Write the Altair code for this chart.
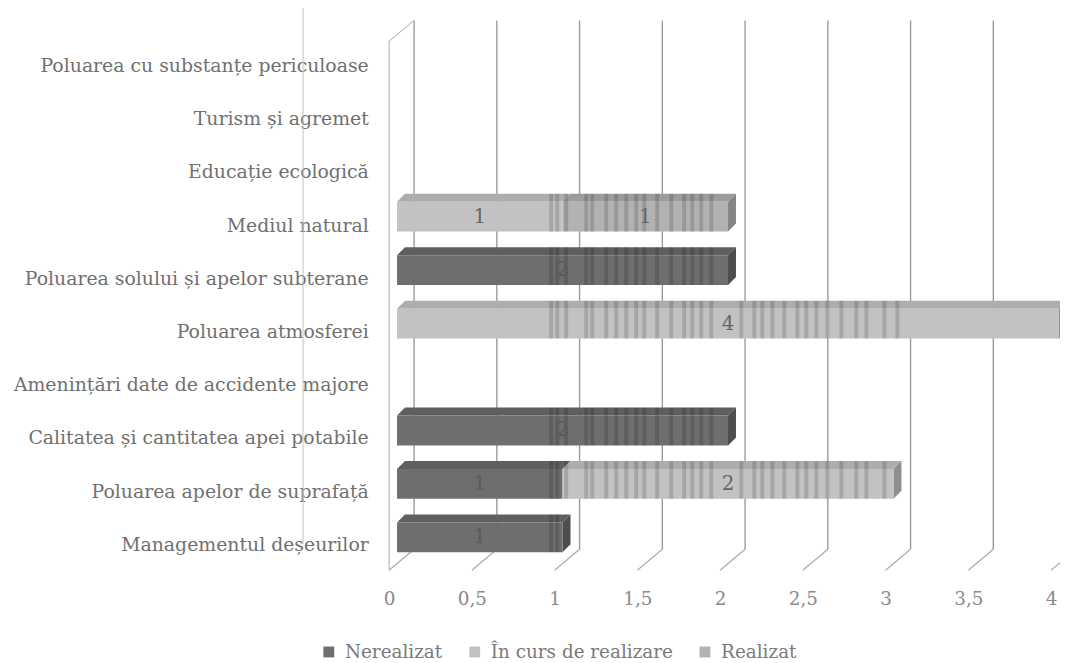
import json
import altair as alt
import pandas as pd

categories = ["Managementul deșeurilor", "Poluarea apelor de suprafață",
              "Calitatea și cantitatea apei potabile", "Amenințări date de accidente majore",
              "Poluarea atmosferei", "Poluarea solului și apelor subterane", "Mediul natural",
              "Educație ecologică", "Turism și agremet", "Poluarea cu substanțe periculoase"]
series_names = ["Nerealizat", "În curs de realizare", "Realizat"]
nerealizat = [1, 1, 2, 0, 0, 2, 0, 0, 0, 0]
in_curs = [0, 2, 0, 0, 4, 0, 1, 0, 0, 0]
realizat = [0, 0, 0, 0, 0, 0, 1, 0, 0, 0]
x_ticks = [0, 0.5, 1, 1.5, 2, 2.5, 3, 3.5, 4]
# dark scan bands across the bars (in value units)
stripes = [0.967, 1.004, 1.058, 1.179, 1.215, 1.300, 1.360, 1.421, 1.481, 1.530, 1.608,
           1.693, 1.771, 1.820, 1.874, 1.935, 2.116, 2.195, 2.243, 2.304, 2.376, 2.455,
           2.509, 2.570, 2.636, 2.721, 2.811, 2.872, 2.981, 3.059]

FRONT = {"Nerealizat": "#6e6e6e", "În curs de realizare": "#c2c2c2", "Realizat": "#b2b2b2"}
TOP = {"Nerealizat": "#5f5f5f", "În curs de realizare": "#adadad", "Realizat": "#9c9c9c"}
SIDE = {"Nerealizat": "#4d4d4d", "În curs de realizare": "#8f8f8f", "Realizat": "#858585"}
LABEL_COLOR = {"Nerealizat": "#5a5a5a", "În curs de realizare": "#666666", "Realizat": "#666666"}

WALL_DX, WALL_DY = 0.151, 0.393      # depth of the chart box, in scale units
BAR_SHIFT = 0.048                    # bars stand a little inside the box
BAR_DX, BAR_DY = 0.048, 0.15         # depth of each bar
BAR_LOW, BAR_HIGH = -0.15, 0.41      # front face around the category position
BAR_STEP = 1.005
Y_MIN, Y_MAX = -0.487, 9.85

FONT = "DejaVu Serif"
x_scale = alt.Scale(domain=[0, 4], nice=False, zero=False)
y_scale = alt.Scale(domain=[Y_MIN, Y_MAX], nice=False, zero=False)

segs = []
for i, c in enumerate(categories):
    start = 0
    for name, vals in zip(series_names, [nerealizat, in_curs, realizat]):
        v = vals[i]
        if v:
            pos = i * BAR_STEP
            segs.append(dict(i=i, series=name, v=v, x0=start + BAR_SHIFT, x1=start + v + BAR_SHIFT,
                             xm=start + v / 2 + BAR_SHIFT, y0=pos + BAR_LOW, y1=pos + BAR_HIGH,
                             ym=pos + (BAR_LOW + BAR_HIGH) / 2))
            start += v

tops, sides, stripe_rows = [], [], []
for n, s in enumerate(segs):
    t = s["y1"]
    for px, low, high in [(s["x0"], t, t), (s["x0"] + BAR_DX, t, t + BAR_DY),
                          (s["x1"], t, t + BAR_DY), (s["x1"] + BAR_DX, t + BAR_DY, t + BAR_DY)]:
        tops.append(dict(id=n, x=px, y=low, y2=high, fill=TOP[s["series"]]))
    last = max(o["x1"] for o in segs if o["i"] == s["i"])
    if s["x1"] == last:
        sides.append(dict(id=n, x=s["x1"], y=s["y0"], y2=s["y1"], fill=SIDE[s["series"]]))
        sides.append(dict(id=n, x=s["x1"] + BAR_DX, y=s["y0"] + BAR_DY, y2=s["y1"] + BAR_DY,
                          fill=SIDE[s["series"]]))
    for st in stripes:
        if st >= s["x0"] and st + 0.024 <= s["x1"]:
            stripe_rows.append(dict(x=st, x2=st + 0.024, y=s["y0"], y2=s["y1"] + BAR_DY))

walls, floors = [], []
for n, t in enumerate(x_ticks):
    walls.append(dict(x=t + WALL_DX, y=Y_MIN + WALL_DY, y2=Y_MAX))
    floors += [dict(id=n, x=t, y=Y_MIN), dict(id=n, x=t + WALL_DX, y=Y_MIN + WALL_DY)]
front_edge = [dict(id=0, x=0, y=Y_MIN), dict(id=0, x=0, y=Y_MAX - WALL_DY),
              dict(id=0, x=WALL_DX, y=Y_MAX)]

X = lambda f="x": alt.X(f"{f}:Q", scale=x_scale, title=None)
Y = lambda f="y": alt.Y(f"{f}:Q", scale=y_scale, title=None)

names_js = json.dumps(categories, ensure_ascii=False)
axes = alt.Chart(pd.DataFrame({"x": [0], "y": [0]})).mark_point(opacity=0).encode(
    x=alt.X("x:Q", scale=x_scale, title=None,
            axis=alt.Axis(values=x_ticks, grid=False, domain=False, ticks=False, labelPadding=20,
                          labelFont=FONT, labelFontSize=18.5, labelColor="#8a8a8a", labelFlush=False,
                          labelExpr="replace(format(datum.value,''),'.',',')")),
    y=alt.Y("y:Q", scale=y_scale, title=None,
            axis=alt.Axis(values=list(range(len(categories))), grid=False, domain=False, ticks=False,
                          labelPadding=21, labelFont=FONT, labelFontSize=19, labelColor="#707070",
                          labelLimit=400, labelExpr=f"{names_js}[datum.value]")),
)

grid = alt.Chart(pd.DataFrame(walls)).mark_rule(color="#9a9a9a", strokeWidth=1.4).encode(
    x=X(), y=Y(), y2="y2:Q")
floor = alt.Chart(pd.DataFrame(floors)).mark_line(color="#aaaaaa", strokeWidth=1.2).encode(
    x=X(), y=Y(), detail="id:N")
edge = alt.Chart(pd.DataFrame(front_edge)).mark_line(color="#a8a8a8", strokeWidth=1, order=False).encode(
    x=X(), y=Y(), detail="id:N")
fold = alt.Chart(pd.DataFrame({"x": [-0.52], "y": [10.2], "y2": [0]})).mark_rule(
    color="#c4c4c4", strokeWidth=1).encode(x=X(), y=Y(), y2="y2:Q")

top_faces = alt.Chart(pd.DataFrame(tops)).mark_area(orient="vertical", opacity=1).encode(
    x=X(), y=Y(), y2="y2:Q", color=alt.Color("fill:N", scale=None), detail="id:N")
side_faces = alt.Chart(pd.DataFrame(sides)).mark_area(orient="vertical", opacity=1).encode(
    x=X(), y=Y(), y2="y2:Q", color=alt.Color("fill:N", scale=None), detail="id:N")

seg_df = pd.DataFrame(segs)
fronts = alt.Chart(seg_df).mark_rect().encode(
    x=X("x0"), x2="x1:Q", y=Y("y0"), y2="y1:Q",
    color=alt.Color("series:N",
                    scale=alt.Scale(domain=series_names, range=[FRONT[s] for s in series_names]),
                    legend=alt.Legend(title=None, orient="none", direction="horizontal",
                                      legendX=-70, legendY=627, symbolType="square", symbolSize=120,
                                      labelFont=FONT, labelFontSize=18.5, labelColor="#7a7a7a",
                                      labelOffset=7, columnPadding=23, symbolStrokeWidth=0,
                                      labelLimit=300)))
bands = alt.Chart(pd.DataFrame(stripe_rows)).mark_rect(color="#000000", opacity=0.14).encode(
    x=X(), x2="x2:Q", y=Y(), y2="y2:Q")
labels = alt.Chart(seg_df.assign(colr=[LABEL_COLOR[s] for s in seg_df["series"]])).mark_text(
    font=FONT, fontSize=20, baseline="middle").encode(
    x=X("xm"), y=Y("ym"), text="v:Q", color=alt.Color("colr:N", scale=None))

chart = alt.layer(axes, fold, grid, floor, edge, top_faces, side_faces, fronts, bands, labels).properties(
    width=667, height=554, autosize="none",
    padding={"left": 384, "top": 10, "right": 9, "bottom": 91},
    background="#ffffff",
).configure_view(stroke=None).resolve_scale(color="independent")

chart.save("out.html", embed_options={"renderer": "svg", "actions": False})
